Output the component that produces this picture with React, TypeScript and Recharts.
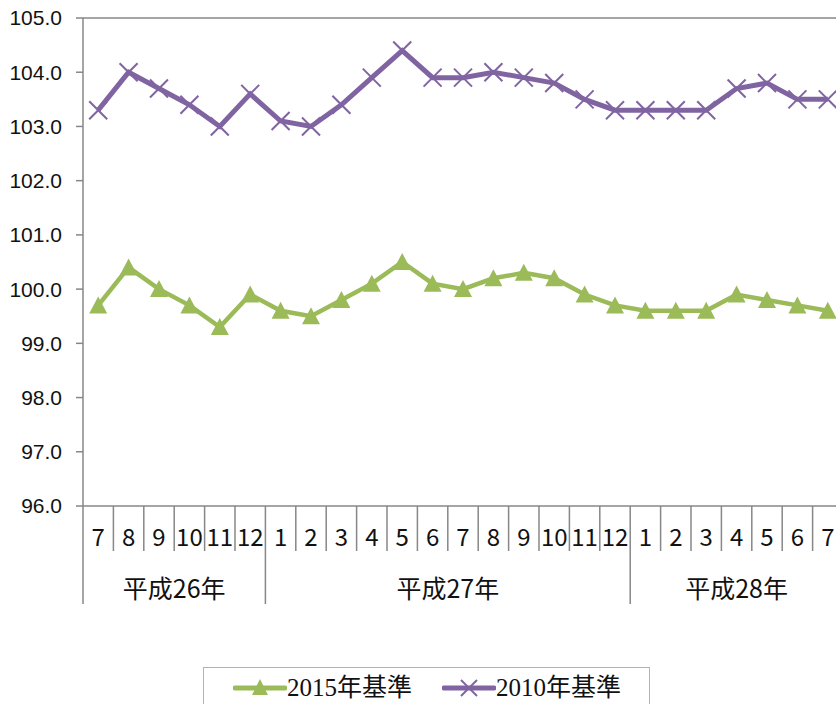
import { LineChart, Line, XAxis, YAxis, ReferenceLine, Legend } from "recharts";

const months = ["7", "8", "9", "10", "11", "12", "1", "2", "3", "4", "5", "6", "7", "8", "9", "10", "11", "12", "1", "2", "3", "4", "5", "6", "7"];
const yearLabels = ["平成26年", "平成27年", "平成28年"];
const yearSpans = [6, 12, 7];
const base2015 = [99.7, 100.4, 100.0, 99.7, 99.3, 99.9, 99.6, 99.5, 99.8, 100.1, 100.5, 100.1, 100.0, 100.2, 100.3, 100.2, 99.9, 99.7, 99.6, 99.6, 99.6, 99.9, 99.8, 99.7, 99.6];
const base2010 = [103.3, 104.0, 103.7, 103.4, 103.0, 103.6, 103.1, 103.0, 103.4, 103.9, 104.4, 103.9, 103.9, 104.0, 103.9, 103.8, 103.5, 103.3, 103.3, 103.3, 103.3, 103.7, 103.8, 103.5, 103.5];
const yTicks = [96, 97, 98, 99, 100, 101, 102, 103, 104, 105];

const data = months.map((m, i) => ({ month: m, idx: i, b2015: base2015[i], b2010: base2010[i] }));

const GREEN = "#9BBB59";
const PURPLE = "#8064A2";
const GRAY = "#878787";
const CHART_W = 860;
const Y_AXIS_W = 83;
const MARGIN_R = 17;
const BAND = (CHART_W - Y_AXIS_W - MARGIN_R) / months.length;
const SANS = "'Noto Sans CJK JP', 'Liberation Sans', sans-serif";
const SERIF = "'Liberation Serif', 'Noto Sans CJK JP', serif";

const groupStarts = yearSpans.map((_, g) => yearSpans.slice(0, g).reduce((a, b) => a + b, 0));

function MonthTick(props: any) {
  const { x, y, payload, index } = props;
  const left = x - BAND / 2;
  const g = groupStarts.indexOf(index);
  const isLast = index === months.length - 1;
  return (
    <g>
      <line x1={left} y1={y} x2={left} y2={y + (g >= 0 ? 98 : 45)} stroke={GRAY} strokeWidth={1.5} />
      {isLast && <line x1={left + BAND} y1={y} x2={left + BAND} y2={y + 98} stroke={GRAY} strokeWidth={1.5} />}
      <text x={x} y={y + 29} textAnchor="middle" dominantBaseline="central" fontSize={24} fill="#111" fontFamily={SANS}>
        {payload.value}
      </text>
      {g >= 0 && (
        <text x={left + (yearSpans[g] * BAND) / 2} y={y + 81} textAnchor="middle" dominantBaseline="central" fontSize={25} fill="#111" fontFamily={SANS}>
          {yearLabels[g]}
        </text>
      )}
    </g>
  );
}

function TriangleDot(props: any) {
  const { cx, cy, index } = props;
  return <polygon key={`t${index}`} points={`${cx},${cy - 9} ${cx + 9},${cy + 8} ${cx - 9},${cy + 8}`} fill={GREEN} />;
}

function CrossDot(props: any) {
  const { cx, cy, index } = props;
  const r = 9;
  return (
    <g key={`x${index}`} stroke={PURPLE} strokeWidth={2}>
      <line x1={cx - r} y1={cy - r} x2={cx + r} y2={cy + r} />
      <line x1={cx - r} y1={cy + r} x2={cx + r} y2={cy - r} />
    </g>
  );
}

function LegendBox() {
  const item = (color: string, label: string, cross: boolean) => (
    <div style={{ display: "flex", alignItems: "center", height: 40 }}>
      <svg width={54} height={20} style={{ display: "block" }}>
        <line x1={2} y1={10} x2={52} y2={10} stroke={color} strokeWidth={5} strokeLinecap="round" />
        {cross ? (
          <g stroke={color} strokeWidth={2}>
            <line x1={19} y1={2} x2={35} y2={18} />
            <line x1={19} y1={18} x2={35} y2={2} />
          </g>
        ) : (
          <polygon points="27,1 35,17 19,17" fill={color} />
        )}
      </svg>
      <span style={{ fontFamily: SERIF, fontSize: 25, color: "#111", lineHeight: "30px" }}>{label}</span>
    </div>
  );
  return (
    <div
      style={{
        boxSizing: "border-box",
        width: 447,
        height: 60,
        border: "1.5px solid #b3b3b3",
        display: "flex",
        alignItems: "flex-start",
        gap: 30,
        paddingLeft: 29,
        background: "#fff",
      }}
    >
      {item(GREEN, "2015年基準", false)}
      {item(PURPLE, "2010年基準", true)}
    </div>
  );
}

export default function App() {
  return (
    <div style={{ position: "absolute", left: 0, top: 0, width: 836, height: 704, overflow: "hidden", background: "#fff" }}>
      <LineChart width={CHART_W} height={704} data={data} margin={{ top: 18, right: MARGIN_R, left: 0, bottom: 0 }}>
        <XAxis
          dataKey="month"
          interval={0}
          height={198}
          padding={{ left: BAND / 2, right: BAND / 2 }}
          tickSize={0}
          tickMargin={0}
          tick={<MonthTick />}
          axisLine={{ stroke: GRAY, strokeWidth: 1.5 }}
          tickLine={false}
        />
        <YAxis
          width={Y_AXIS_W}
          domain={[96, 105]}
          ticks={yTicks}
          tickFormatter={(v: number) => v.toFixed(1)}
          tickSize={7}
          tickMargin={14}
          axisLine={{ stroke: GRAY, strokeWidth: 1.5 }}
          tickLine={{ stroke: GRAY, strokeWidth: 1.5 }}
          tick={{ fontSize: 21, fill: "#111", fontFamily: "'Liberation Sans', sans-serif" }}
        />
        <ReferenceLine y={105} stroke={GRAY} strokeWidth={1.5} />
        <Line
          type="linear"
          dataKey="b2015"
          stroke={GREEN}
          strokeWidth={4.5}
          dot={TriangleDot}
          activeDot={false}
          isAnimationActive={false}
        />
        <Line
          type="linear"
          dataKey="b2010"
          stroke={PURPLE}
          strokeWidth={5}
          dot={CrossDot}
          activeDot={false}
          isAnimationActive={false}
        />
        <Legend
          layout="vertical"
          align="center"
          verticalAlign="middle"
          wrapperStyle={{ left: 203, top: 667, width: 447 }}
          content={() => <LegendBox />}
        />
      </LineChart>
    </div>
  );
}
